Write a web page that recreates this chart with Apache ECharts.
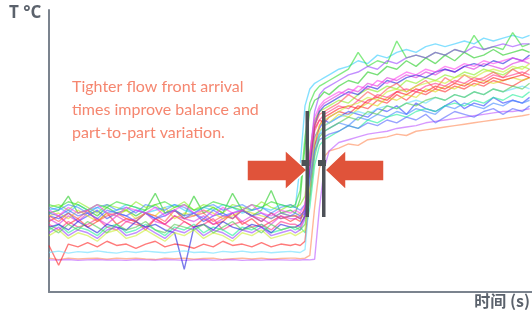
<!DOCTYPE html>
<html>
<head>
<meta charset="utf-8">
<script src="https://cdn.jsdelivr.net/npm/echarts@6/dist/echarts.min.js"></script>
<style>
html, body { margin: 0; padding: 0; background: #fff; }
#chart { width: 532px; height: 316px; }
</style>
</head>
<body>
<div id="chart"></div>
<script>
// time stamps shared by every run (s)
let times = [0,2,4,6,8,10,12,14,16,18,20,22,24,26,28,30,32,34,36,38,40,42,44,46,48,50,
    51,52,53,54,55,56,57,58,
    60,62,64,66,68,70,72,74,76,78,80,82,84,86,88,90,92,94,96,98,99.5];

// temperature per run: flat part (26) | rise (8) | plateau (21)
let run01 = [25,27,24,26,23,25,28,24,26,25,22,26,24,27,25,23,26,24,25,28,24,26,23,25,27,25,
    26,25,30,48,58,61,60,62,
    64,63,66,65,68,67,70,68,71,70,72,71,73,72,74,73,75,74,73,75,76];
let run02 = [28,29,34,28,29,27,30,28,29,27,29,35,28,29,27,34,28,30,28,35,29,27,29,36,28,29,
    28,33,52,64,68,69,71,70,
    73,75,74,78,77,80,79,82,80,83,81,84,82,85,83,84,86,84,85,86,85];
let run03 = [27,26,28,25,27,29,26,28,27,25,28,26,27,29,26,28,25,27,28,26,29,27,25,28,26,27,
    27,26,28,42,55,58,61,60,
    62,64,63,62,65,64,66,63,67,65,64,66,68,65,67,66,69,67,68,67,69];
let run04 = [29,30,28,31,29,30,28,29,31,30,28,29,30,31,29,28,30,29,31,30,28,29,30,29,31,30,
    30,45,66,72,74,75,76,77,
    79,80,82,81,84,83,85,86,85,87,88,87,88,89,88,90,89,90,91,90,91];
let run05 = [26,24,27,25,28,26,24,27,25,26,28,25,24,27,26,25,27,24,26,28,25,27,26,24,27,26,
    26,27,29,46,60,65,67,68,
    70,72,71,74,73,76,75,77,76,78,77,79,78,80,79,81,80,79,81,82,81];
let run06 = [27,28,26,29,27,25,28,27,29,26,28,27,30,26,28,27,29,28,26,27,29,28,27,26,28,27,
    27,28,26,35,50,57,59,60,
    63,62,65,67,66,69,68,70,69,72,71,73,72,74,73,75,74,75,76,75,76];
let run07 = [12,11.5,12,11.7,11.9,12,11.6,12,11.8,12,11.7,11.5,12,11.8,12,11.6,11.9,12,11.5,11.8,12,11.7,12,11.6,11.9,12,
    12,11.8,12,13,30,44,48,50,
    51,52.5,52,54,54.5,55,56,55.5,57,57.5,58,58.5,59,59.5,60,60.5,61,61.5,62,62.5,63];
let run08 = [11.4,11.3,11.5,11.2,11.4,11.5,11.3,11.4,11.2,11.5,11.4,11.3,11.5,11.4,11.2,11.4,11.5,11.3,11.4,11.5,11.2,11.4,11.3,11.5,11.4,11.3,
    11.4,11.3,11.5,11.4,11.6,30,44,50,
    53,54,55,56,56.5,57,58,58.5,59,60,60.5,61,61.5,62,62.5,63,63.5,64,64,64.5,65];
let run09 = [30,31,29,32,30,28,31,30,29,32,30,31,28,30,32,29,31,30,28,31,30,29,32,30,29,31,
    30,31,34,50,61,64,65,66,
    68,67,70,72,71,73,72,75,74,76,75,77,76,78,77,79,78,77,79,80,79];
let run10 = [24,22,25,23,24,26,23,22,25,24,23,26,24,22,25,23,24,26,22,24,25,23,24,22,25,24,
    24,23,27,44,57,61,63,64,
    66,65,68,67,70,69,71,72,71,73,74,73,75,74,76,75,77,76,77,78,77];
let run11 = [30,29,31,30,28,30,31,29,30,28,31,30,29,31,30,28,30,31,29,30,31,29,30,28,30,31,
    30,29,31,40,52,56,57,58,
    60,59,62,61,63,62,64,63,65,64,63,66,65,67,66,65,67,66,68,67,68];
let run12 = [22,24,21,23,22,20,23,24,21,22,24,22,20,23,22,24,21,23,22,20,23,22,24,21,22,23,
    22,23,21,30,45,52,54,55,
    57,59,58,61,60,62,63,62,64,65,64,66,67,66,68,67,69,68,70,69,71];
let run13 = [16.5,9.5,17,16,17.5,16,18,16.5,17,15.5,17,18,16,17,16.5,15.5,17,16,18,16.5,17,16,17.5,16,17,16.5,
    17,16.5,18,35,52,59,62,63,
    65,66,65,68,69,68,71,70,72,71,73,72,74,73,75,74,76,75,76,77,76];
let run14 = [31,30,32,31,29,31,30,32,31,30,29,31,32,30,31,29,30,32,31,30,29,31,30,32,31,30,
    31,36,55,67,71,73,74,75,
    77,79,85,80,82,81,89,83,84,83,85,84,86,85,91,86,87,86,92,87,88];
let run15 = [23,24,22,25,23,21,24,23,22,25,23,24,22,21,8,23,24,22,25,23,22,24,23,21,24,23,
    23,24,27,45,59,64,66,67,
    69,71,70,73,72,75,74,76,77,76,78,79,78,80,81,80,82,81,83,82,84];
let run16 = [14,14.5,13.8,14.3,14,14.6,14.1,13.8,14.4,14,14.5,14.2,13.9,14.3,14.6,14,14.2,13.8,14.4,14.1,14.5,14,14.3,13.9,14.2,14.4,
    14.2,14,15,34,50,56,59,60,
    62,63,64,63,65,66,65,67,68,67,69,68,70,69,71,70,72,71,72,73,72];
let run17 = [21,23,20,22,21,19,22,23,20,21,23,21,19,22,21,23,20,22,21,19,22,21,23,20,21,22,
    21,22,26,48,64,70,72,73,
    75,77,78,80,79,82,81,83,84,83,85,84,86,85,87,86,87,88,87,88,88];
let run18 = [27,25,28,26,29,25,27,28,26,25,28,27,25,29,26,27,28,25,27,26,29,27,25,28,26,27,
    27,26,30,47,59,63,64,65,
    67,70,68,71,69,72,74,71,73,75,72,76,74,77,75,76,78,76,79,77,79];
let run19 = [20,22,19,21,20,18,21,22,19,20,22,20,18,21,20,22,19,21,20,18,21,20,22,19,20,21,
    20,21,22,38,54,59,61,62,
    64,66,67,69,68,71,72,71,73,74,75,74,76,77,76,78,79,78,80,79,81];
let run20 = [28,27,29,27,28,26,29,28,27,29,28,26,28,29,27,28,26,29,27,28,29,27,28,26,28,27,
    28,27,29,39,50,54,55,56,
    57,59,58,60,59,61,60,62,61,63,60,62,64,63,62,64,65,63,65,64,66];
let run21 = [29,27,30,28,29,31,28,27,30,29,28,30,27,29,31,28,29,27,30,28,29,31,28,27,29,28,
    29,28,31,49,62,66,68,69,
    71,70,73,72,75,74,76,78,77,79,78,80,79,81,80,82,81,82,83,82,83];
let run22 = [23,21,24,22,25,23,21,24,22,23,25,22,21,24,23,22,24,21,23,25,22,23,21,24,22,23,
    23,22,24,33,48,55,57,58,
    60,62,61,64,63,66,65,67,66,68,69,68,70,69,71,70,72,71,73,72,74];

let runs = [run01,run02,run03,run04,run05,run06,run07,run08,run09,run10,run11,
    run12,run13,run14,run15,run16,run17,run18,run19,run20,run21,run22];
let runColors = ['#ff3030','#22cc22','#3344ff','#33ccff','#dd33dd','#dddd22','#ff8855',
    '#bb55ff','#88ee22','#ff3388','#4488ff','#22ee99','#ff2222','#33dd33','#2222dd',
    '#66ddff','#9944ff','#ff5555','#ccee33','#5566ff','#ff44ee','#55cc55'];

let noteLines = ['Tighter flow front arrival', 'times improve balance and', 'part-to-part variation.'];

let chart = echarts.init(document.getElementById('chart'));

let series = runs.map((r, k) => ({
    type: 'line',
    data: times.map((t, i) => [t, r[i]]),
    showSymbol: false,
    symbol: 'none',
    silent: true,
    lineStyle: { width: 1.4, color: runColors[k], opacity: 0.6 }
}));

let arrowColor = '#e0533a';
let barColor = '#4d5157';

let option = {
    animation: false,
    grid: { left: 49, right: 0, top: 10, bottom: 24 },
    xAxis: {
        type: 'value', min: 0, max: 100,
        axisLine: { show: true, lineStyle: { color: '#7b838e', width: 2 } },
        axisTick: { show: false },
        axisLabel: { show: false },
        splitLine: { show: false }
    },
    yAxis: {
        type: 'value', min: 0, max: 100,
        axisLine: { show: true, lineStyle: { color: '#7b838e', width: 2 } },
        axisTick: { show: false },
        axisLabel: { show: false },
        splitLine: { show: false }
    },
    series: series,
    graphic: [
        {
            type: 'text', left: 9, top: 5, z: 10,
            style: { text: 'T °C', fill: '#5b626c', font: 'bold 17px "Open Sans"' }
        },
        {
            type: 'text', right: 2, top: 293, z: 10,
            style: { text: '时间 (s)', fill: '#5b626c', font: 'bold 16px "Noto Sans CJK SC"' }
        },
        {
            type: 'text', left: 72, top: 75, z: 10,
            style: { text: noteLines.join('\n'), fill: '#f5866f', font: '16px Lato', lineHeight: 23 }
        },
        {
            type: 'polygon', z: 20,
            shape: { points: [[247,160],[285,160],[285,150],[307,170],[285,190],[285,181],[247,181]] },
            style: { fill: arrowColor, stroke: '#fff', lineWidth: 1.5 }
        },
        {
            type: 'polygon', z: 20,
            shape: { points: [[384,160],[346,160],[346,150],[325,170],[346,190],[346,181],[384,181]] },
            style: { fill: arrowColor, stroke: '#fff', lineWidth: 1.5 }
        },
        { type: 'rect', z: 21, shape: { x: 305.5, y: 111, width: 3.5, height: 106 }, style: { fill: barColor } },
        { type: 'rect', z: 21, shape: { x: 322, y: 111, width: 3.5, height: 106 }, style: { fill: barColor } },
        { type: 'rect', z: 21, shape: { x: 301.5, y: 160, width: 8, height: 6 }, style: { fill: barColor } },
        { type: 'rect', z: 21, shape: { x: 318, y: 160, width: 8, height: 6 }, style: { fill: barColor } }
    ]
};

chart.setOption(option);
</script>
</body>
</html>
